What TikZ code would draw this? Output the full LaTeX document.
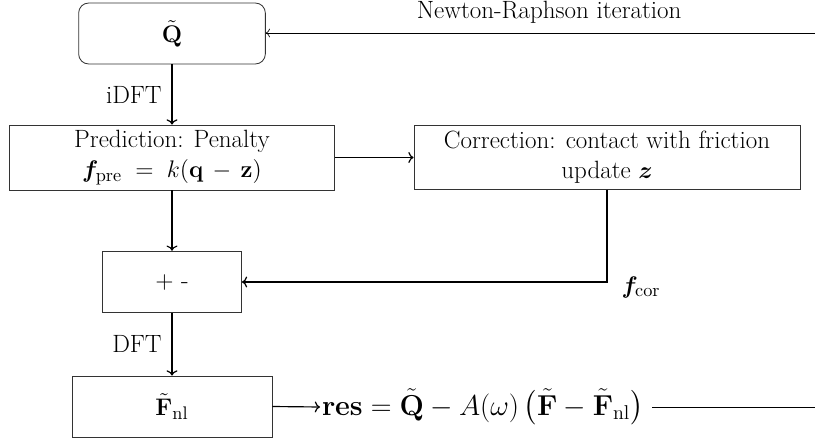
\documentclass[tikz,border=0pt]{standalone}
\usepackage{amsmath,bm}
\usetikzlibrary{arrows.meta}
\tikzset{
  blk/.style={draw=black!80, line width=0.5pt, align=center, inner sep=2pt, font=\fontsize{15}{18}\selectfont},
  flow/.style={->, line width=0.7pt},
  lbl/.style={font=\fontsize{15}{18}\selectfont},
}
\begin{document}
\begin{tikzpicture}[x=0.6pt, y=-0.6pt]
  \useasboundingbox (0,0) rectangle (815,439);
  % boxes
  \node[blk, rounded corners=6pt, minimum width=112pt, minimum height=36.6pt] (qt) at (172,33.5) {$\tilde{\mathbf{Q}}$};
  \node[blk, minimum width=195pt, minimum height=39pt] (pred) at (172,157.5) {Prediction: Penalty\\$\bm{f}_{\mathrm{pre}} \;=\; k(\mathbf{q} \,-\, \mathbf{z})$};
  \node[blk, minimum width=231.6pt, minimum height=38pt] (corr) at (607,157.5) {Correction: contact with friction\\update $\bm{z}$};
  \node[blk, minimum width=83.4pt, minimum height=37pt] (sum) at (172,282) {$+$ -};
  \node[blk, minimum width=120pt, minimum height=36.6pt] (fnl) at (172,406.5) {$\tilde{\mathbf{F}}_{\mathrm{nl}}$};
  \node[right, inner sep=1pt, font=\fontsize{16.5}{19}\selectfont] (res) at (320,407) {$\mathbf{res} = \tilde{\mathbf{Q}} - A(\omega)\left(\tilde{\mathbf{F}} - \tilde{\mathbf{F}}_{\mathrm{nl}}\right)$};
  \node[blk, draw=none] (fc) at (641,287) {$\bm{f}_{\mathrm{cor}}$};
  \coordinate (nr) at (815,33);
  \coordinate (ls) at (652,407);
  \coordinate (out) at (815,407);
  % connectors
  \draw[->, line width=0.4pt] (nr) -- (qt.east |- nr) node[lbl, pos=0.484, above=2pt] {Newton-Raphson iteration};
  \draw[flow] (qt.south) -- (pred.north) node[lbl, midway, left=2.5pt] {iDFT};
  \draw[flow] (pred.east) -- (corr.west);
  \draw[flow] (pred.south) -- (sum.north);
  \draw[flow] (corr.south) |- (sum.east);
  \draw[flow] (sum.south) -- (fnl.north) node[lbl, midway, left=2.5pt] {DFT};
  \draw[flow] (fnl.east) -- (res.west);
  \draw[line width=0.6pt] (ls) -- (out);
\end{tikzpicture}
\end{document}
